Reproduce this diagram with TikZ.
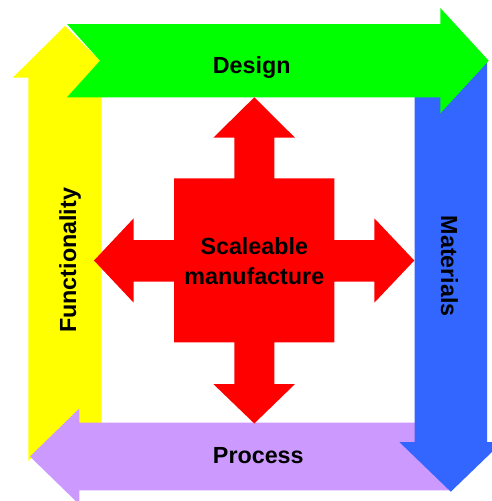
\documentclass[tikz,border=0pt]{standalone}
\usepackage{fontspec}
\setmainfont{Liberation Sans}
\definecolor{cgreen}{HTML}{00FF00}
\definecolor{cyellow}{HTML}{FFFF00}
\definecolor{cblue}{HTML}{3366FF}
\definecolor{cpurple}{HTML}{CC99FF}
\definecolor{cred}{HTML}{FF0000}
\tikzset{
  shapefill/.style={fill=#1, draw=none},
  lbl/.style={font=\bfseries\fontsize{23.3}{29.3}\selectfont, text=black, inner sep=0pt},
}
\begin{document}
\begin{tikzpicture}[x=1pt,y=-1pt]
\useasboundingbox (0,0) rectangle (492,501);
\clip (0,0) rectangle (492,501);
\fill[white] (0,0) rectangle (492,501);
% yellow (up)
\fill[shapefill=cyellow] (28.3,461) -- (28.3,77.7) -- (12.7,77.7) -- (65,26) -- (117.3,77.7) -- (101.7,77.7) -- (101.7,461) -- (65,428) -- cycle;
% purple (left)
\fill[shapefill=cpurple] (451,422.7) -- (79.3,422.7) -- (79.3,408.5) -- (30,456.5) -- (79.3,504.5) -- (79.3,490.3) -- (451,490.3) -- (418,456.5) -- cycle;
% blue (down)
\fill[shapefill=cblue] (414.7,60) -- (450.8,93) -- (487,60) -- (487,442) -- (502.3,442) -- (450.8,491.7) -- (399.3,442) -- (414.7,442) -- cycle;
% green (right)
\fill[shapefill=cgreen] (67,24) -- (440.3,24) -- (440.3,8) -- (488.7,60.7) -- (440.3,113.3) -- (440.3,97.3) -- (67,97.3) -- (100,60.7) -- cycle;
% red cross
\fill[shapefill=cred] (254.3,97.3) -- (295,137.7) -- (274.3,137.7) -- (274.3,178.3) -- (334.3,178.3) -- (334.3,240) -- (374.3,240) -- (374.3,218.3) -- (414.3,260.5) -- (374.3,302.7) -- (374.3,281.7) -- (334.3,281.7) -- (334.3,342.3) -- (274.3,342.3) -- (274.3,384) -- (295,384) -- (254.3,423.5) -- (213.3,384) -- (234.3,384) -- (234.3,342.3) -- (174,342.3) -- (174,281.7) -- (133.7,281.7) -- (133.7,302.7) -- (94,260.5) -- (133.7,218.3) -- (133.7,240) -- (174,240) -- (174,178.3) -- (234.3,178.3) -- (234.3,137.7) -- (213.3,137.7) -- cycle;
% labels
\node[lbl, anchor=base] (design) at (251.7,73.3) {Design};
\node[lbl, anchor=base] (process) at (258.3,463.3) {Process};
\node[lbl, anchor=base, rotate=90] (func) at (76,260.4) {Functionality};
\node[lbl, anchor=base, rotate=-90] (mat) at (441.2,266.2) {Materials};
\node[lbl, align=center, anchor=center] (scale) at (254.3,261.3) {Scaleable\\manufacture};
\end{tikzpicture}
\end{document}
